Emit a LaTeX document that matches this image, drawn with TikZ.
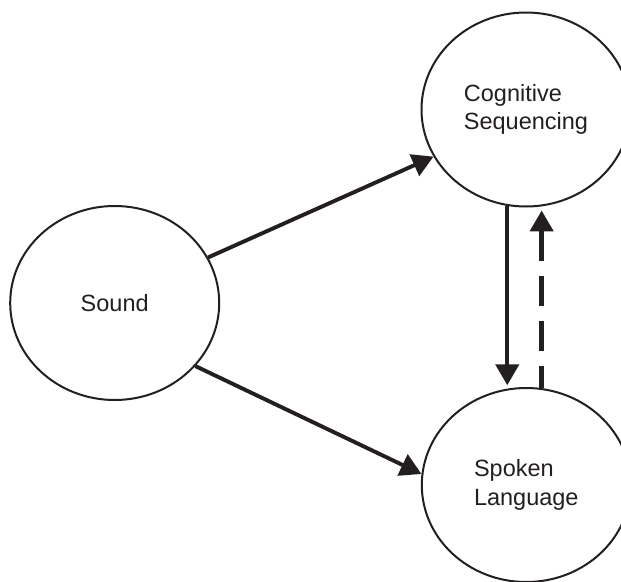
\documentclass[tikz,border=0pt]{standalone}
\usepackage{fontspec}
\setmainfont{Liberation Sans}
\usetikzlibrary{shapes.geometric,arrows.meta}
\definecolor{ink}{HTML}{231F20}
\begin{document}
\begin{tikzpicture}[x=1pt,y=-1pt,
  bubble/.style={draw=ink,line width=2pt,ellipse,minimum width=209pt,minimum height=194pt,inner sep=0pt,
    align=left,font=\fontsize{23.5pt}{28.6pt}\selectfont,text=ink},
  link/.style={draw=ink,line width=3.9pt,-{Triangle[length=21pt,width=23pt]},ink},
  vlink/.style={link,line width=4.4pt}]
\useasboundingbox (0,0) rectangle (621,581);
\clip (0,0) rectangle (621,581);
\node[bubble] (sound) at (114.7,303) {Sound};
\node[bubble] (cog) at (526,109.5) {Cognitive\\Sequencing};
\node[bubble] (spoken) at (526.3,485) {Spoken\\Language};
\draw[link] (sound.26.3) -- (cog.207.3);
\draw[link] (sound.-38.1) -- (spoken.174.3);
\draw[vlink,shorten >=3pt] (cog.259.5) -- (cog.259.5 |- spoken.100.5);
\draw[vlink,shorten >=4pt,dash pattern=on 29.5pt off 15.5pt,dash phase=7.9pt] (spoken.81.1) -- (spoken.81.1 |- cog.-81.1);
\end{tikzpicture}
\end{document}
